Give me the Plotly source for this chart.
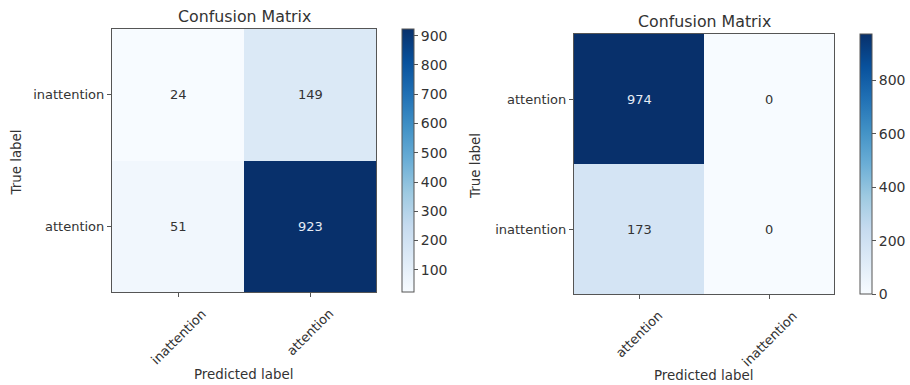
import plotly.graph_objects as go
from plotly.subplots import make_subplots

# Left matrix: labels ordered inattention, attention
left_labels = ["inattention", "attention"]
left_counts = [[24, 149],
               [51, 923]]

# Right matrix: labels ordered attention, inattention
right_labels = ["attention", "inattention"]
right_counts = [[974, 0],
                [173, 0]]

left_cbar_ticks = [100, 200, 300, 400, 500, 600, 700, 800, 900]
right_cbar_ticks = [0, 200, 400, 600, 800]

W, H = 910, 385
FONT = "DejaVu Sans"
TXT = "#333333"
FRAME = "#555555"

# matplotlib "Blues"
blues = ["#f7fbff", "#deebf7", "#c6dbef", "#9ecae1", "#6baed6",
         "#4292c6", "#2171b5", "#08519c", "#08306b"]
colorscale = [[i / (len(blues) - 1), c] for i, c in enumerate(blues)]


def px_x(v):
    return v / W


def px_y(v):
    return 1 - v / H


fig = make_subplots(rows=1, cols=2)

panels = [
    # labels, counts, box (left, top, right, bottom), colorbar left x, ticks
    (left_labels, left_counts, (112, 29, 376, 292), 402, left_cbar_ticks),
    (right_labels, right_counts, (574, 34, 834, 294), 860, right_cbar_ticks),
]

annotations = []
for k, (labels, counts, box, cbx, cticks) in enumerate(panels):
    col = k + 1
    l, t, r, b = box
    flat = [v for row in counts for v in row]
    zmin, zmax = min(flat), max(flat)
    fig.add_trace(
        go.Heatmap(
            z=counts, x=labels, y=labels,
            colorscale=colorscale, zmin=zmin, zmax=zmax,
            showscale=True, hoverinfo="z",
            colorbar=dict(
                x=px_x(cbx), xanchor="left", xref="paper",
                y=px_y(b), yanchor="bottom", yref="paper",
                len=(b - t) / H, lenmode="fraction",
                thickness=12, thicknessmode="pixels",
                xpad=0, ypad=0,
                outlinecolor=FRAME, outlinewidth=1,
                tickvals=cticks, ticks="outside", ticklen=4,
                tickcolor=FRAME, tickwidth=1,
                tickfont=dict(family=FONT, size=14, color=TXT),
            ),
        ),
        row=1, col=col,
    )
    xa = "xaxis" if k == 0 else "xaxis2"
    ya = "yaxis" if k == 0 else "yaxis2"
    fig.layout[xa].update(
        domain=[px_x(l), px_x(r)], type="category",
        showline=True, mirror=True, linecolor=FRAME, linewidth=1.2,
        ticks="outside", ticklen=4, tickcolor=FRAME,
        showticklabels=False, showgrid=False, zeroline=False,
    )
    fig.layout[ya].update(
        domain=[px_y(b), px_y(t)], type="category", autorange="reversed",
        showline=True, mirror=True, linecolor=FRAME, linewidth=1.2,
        ticks="outside", ticklen=4, tickcolor=FRAME,
        tickfont=dict(family=FONT, size=13, color=TXT), showgrid=False,
        zeroline=False,
    )
    xref = "x" if k == 0 else "x2"
    yref = "y" if k == 0 else "y2"
    thresh = zmax / 2
    for i, yl in enumerate(labels):
        for j, xl in enumerate(labels):
            v = counts[i][j]
            annotations.append(dict(
                x=xl, y=yl, xref=xref, yref=yref, text=str(v),
                showarrow=False,
                font=dict(family=FONT, size=13,
                          color="#e6ecf5" if v > thresh else TXT),
            ))
    # rotated category labels, centred under each tick
    for xl in labels:
        annotations.append(dict(
            x=xl, xref=xref, y=px_y(b + 12), yref="paper",
            text=xl, showarrow=False, textangle=-45,
            xanchor="center", yanchor="top",
            font=dict(family=FONT, size=13, color=TXT),
        ))
    cx = (l + r) / 2
    annotations.append(dict(
        x=px_x(cx), y=px_y(t - 13), xref="paper", yref="paper",
        text="Confusion Matrix", showarrow=False,
        xanchor="center", yanchor="middle",
        font=dict(family=FONT, size=15.8, color=TXT),
    ))
    annotations.append(dict(
        x=px_x(cx), y=px_y(374 + k), xref="paper", yref="paper",
        text="Predicted label", showarrow=False,
        xanchor="center", yanchor="middle",
        font=dict(family=FONT, size=13.4, color=TXT),
    ))
    annotations.append(dict(
        x=px_x(16 if k == 0 else 476), y=px_y((t + b) / 2 + 2),
        xref="paper", yref="paper", text="True label", showarrow=False,
        textangle=-90, xanchor="center", yanchor="middle",
        font=dict(family=FONT, size=13.4, color=TXT),
    ))

fig.update_layout(
    width=W, height=H,
    margin=dict(l=0, r=0, t=0, b=0),
    paper_bgcolor="white", plot_bgcolor="white",
    annotations=annotations,
    showlegend=False,
)

fig.write_html("out.html")
